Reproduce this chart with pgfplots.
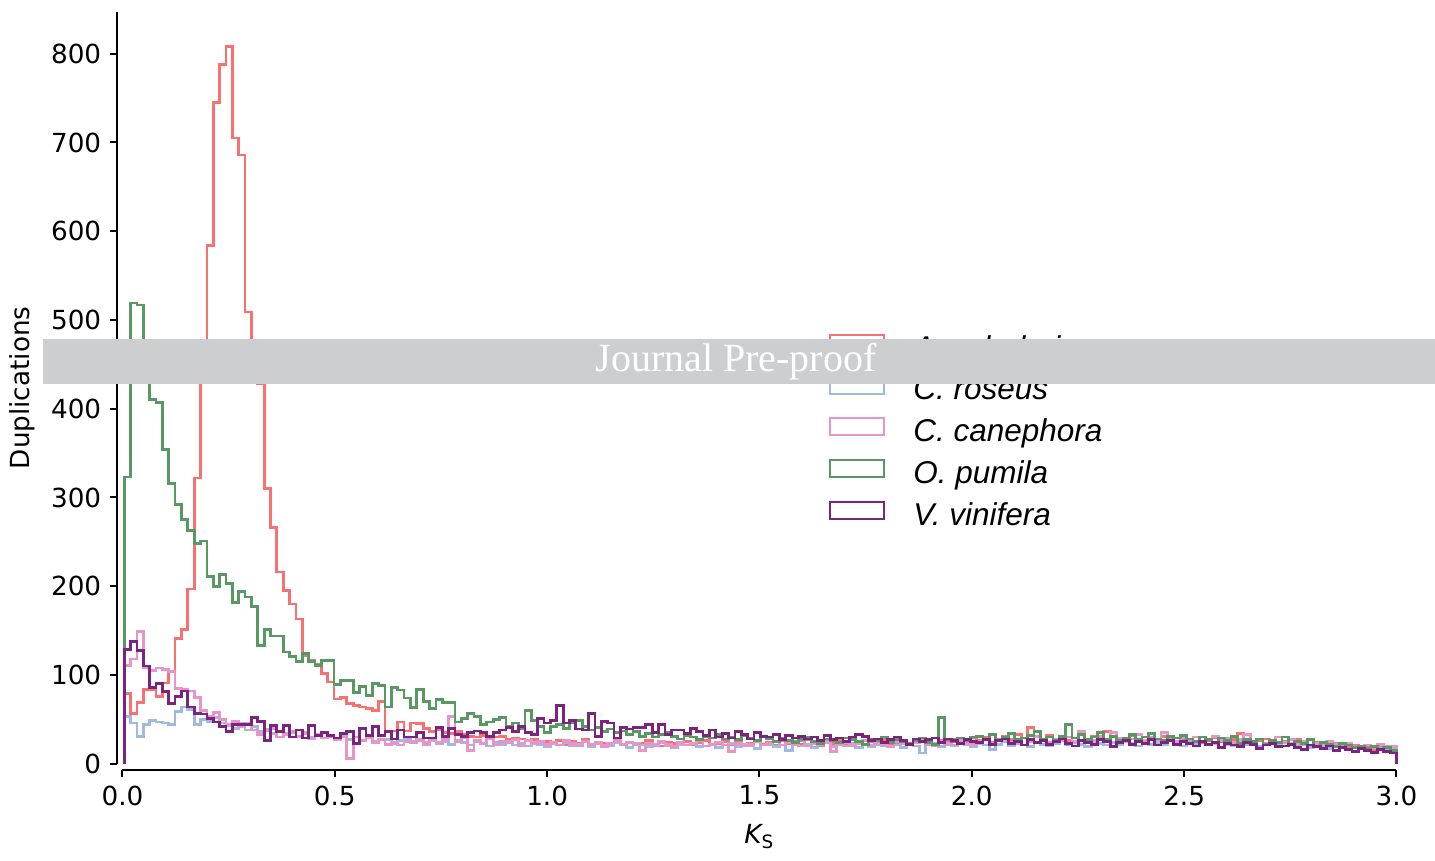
\documentclass[border=0pt]{standalone}
\usepackage{fontspec}
\setmainfont{DejaVu Sans}
\newfontfamily\legfont{Liberation Sans}
\newfontfamily\bannerfont{Liberation Serif}
\usepackage{pgfplots}
\usepackage{pgfplotstable}
\pgfplotsset{compat=1.18}

\definecolor{cred}{RGB}{248,113,113}
\definecolor{cblue}{RGB}{158,186,226}
\definecolor{cpink}{RGB}{232,148,200}
\definecolor{cgreen}{RGB}{88,152,98}
\definecolor{cpurple}{RGB}{122,36,128}
\definecolor{bannergray}{RGB}{205,206,208}

% step histograms, 200 bins from 0.004 to 3.0 (first row 0, last value repeated, then 0)
\pgfplotstableread[row sep=\\]{h\\ 0\\
79\\ 57\\ 69\\ 84\\ 84\\ 76\\ 91\\ 104\\ 141\\ 151\\ 197\\ 322\\
455\\ 584\\ 745\\ 788\\ 808\\ 705\\ 686\\ 509\\ 440\\ 428\\
310\\ 266\\ 216\\ 195\\ 180\\ 163\\
122\\ 117\\ 112\\ 102\\ 92\\ 73\\ 75\\ 68\\ 66\\ 64\\ 62\\ 60\\ 70\\
37\\ 37\\ 47\\ 37\\ 46\\
45\\ 40\\ 36\\ 38\\ 35\\ 34\\ 36\\ 33\\ 31\\ 30\\ 32\\ 29\\ 30\\ 31\\ 27\\ 29\\ 28\\ 26\\ 27\\ 24\\ 25\\
24\\ 26\\ 22\\ 25\\ 23\\ 27\\ 21\\ 24\\ 23\\ 20\\ 25\\ 22\\ 24\\ 21\\ 23\\ 26\\ 22\\ 20\\ 24\\ 23\\ 21\\ 25\\ 22\\ 24\\ 26\\ 21\\ 23\\ 25\\ 22\\ 24\\ 20\\ 23\\ 25\\ 22\\
24\\ 21\\ 26\\ 23\\ 25\\ 22\\ 27\\ 24\\ 20\\ 25\\ 23\\ 26\\ 22\\ 28\\ 24\\ 21\\ 25\\ 23\\ 27\\ 22\\ 24\\ 26\\ 21\\ 25\\ 28\\ 23\\ 22\\ 26\\ 24\\ 27\\ 23\\ 25\\ 29\\
26\\ 30\\ 24\\ 28\\ 31\\ 27\\ 33\\ 29\\ 41\\ 30\\ 27\\ 32\\ 28\\ 30\\ 26\\ 29\\ 33\\ 27\\ 31\\ 28\\ 36\\ 30\\ 27\\ 29\\ 32\\ 28\\ 26\\ 30\\ 27\\ 31\\ 29\\ 25\\ 28\\
27\\ 30\\ 24\\ 26\\ 29\\ 25\\ 23\\ 27\\ 34\\ 25\\ 22\\ 26\\ 28\\ 24\\ 21\\ 25\\ 23\\ 27\\ 22\\ 20\\ 24\\ 21\\ 19\\ 23\\ 20\\ 18\\ 21\\ 17\\ 19\\ 16\\ 18\\ 15\\ 17\\
17\\ 0\\
}\ascholaris

\pgfplotstableread[row sep=\\]{h\\ 0\\
53\\ 46\\ 31\\ 44\\ 49\\ 47\\ 46\\ 44\\ 59\\ 64\\ 61\\ 44\\ 50\\
48\\ 52\\ 46\\ 43\\ 40\\ 45\\ 38\\ 42\\ 36\\ 39\\ 34\\ 37\\ 33\\ 35\\ 31\\ 34\\ 30\\ 33\\ 29\\ 32\\ 28\\ 31\\ 27\\ 30\\ 26\\ 29\\ 25\\ 28\\ 27\\ 24\\ 26\\ 28\\ 25\\
27\\ 24\\ 26\\ 23\\ 25\\ 22\\ 26\\ 24\\ 21\\ 25\\ 23\\ 20\\ 24\\ 22\\ 25\\ 21\\ 23\\ 20\\ 24\\ 22\\ 19\\
23\\ 21\\ 24\\ 20\\ 22\\ 25\\ 19\\ 23\\ 21\\ 20\\ 24\\ 22\\ 18\\ 23\\ 21\\ 19\\ 22\\ 24\\ 20\\ 18\\ 22\\ 21\\ 23\\ 19\\ 20\\ 22\\ 18\\ 21\\ 23\\ 19\\ 22\\ 20\\ 17\\ 21\\
22\\ 19\\ 21\\ 15\\ 23\\ 20\\ 22\\ 18\\ 21\\ 24\\ 19\\ 22\\ 20\\ 23\\ 18\\ 21\\ 19\\ 22\\ 20\\ 24\\ 21\\ 18\\ 22\\ 20\\ 12\\ 21\\ 23\\ 19\\ 22\\ 20\\ 24\\ 21\\ 19\\
23\\ 21\\ 16\\ 22\\ 25\\ 20\\ 23\\ 21\\ 19\\ 24\\ 22\\ 20\\ 23\\ 26\\ 21\\ 24\\ 22\\ 19\\ 25\\ 23\\ 21\\ 24\\ 22\\ 27\\ 23\\ 20\\ 25\\ 22\\ 24\\ 21\\ 26\\ 23\\ 20\\
24\\ 22\\ 25\\ 21\\ 23\\ 26\\ 22\\ 20\\ 24\\ 21\\ 23\\ 19\\ 22\\ 25\\ 21\\ 20\\ 23\\ 19\\ 21\\ 18\\ 22\\ 20\\ 17\\ 21\\ 19\\ 16\\ 20\\ 18\\ 15\\ 19\\ 17\\ 16\\ 18\\
18\\ 0\\
}\croseus

\pgfplotstableread[row sep=\\]{h\\ 0\\
111\\ 118\\ 149\\ 108\\ 105\\ 108\\ 106\\ 104\\ 85\\ 84\\ 82\\ 75\\ 60\\ 53\\ 58\\ 50\\ 44\\ 48\\ 42\\ 46\\ 38\\ 33\\ 37\\ 40\\ 30\\ 34\\ 36\\ 31\\ 35\\ 28\\ 33\\ 29\\ 31\\ 27\\ 30\\ 6\\ 30\\ 26\\ 29\\ 24\\ 27\\ 22\\ 23\\ 21\\ 25\\ 24\\
26\\ 22\\ 28\\ 24\\ 27\\ 53\\ 25\\ 29\\ 15\\ 26\\ 23\\ 28\\ 21\\ 25\\ 24\\ 27\\ 20\\ 26\\ 23\\ 25\\ 22\\
24\\ 21\\ 26\\ 23\\ 20\\ 25\\ 22\\ 24\\ 19\\ 23\\ 26\\ 21\\ 24\\ 22\\ 15\\ 23\\ 20\\ 25\\ 22\\ 19\\ 24\\ 21\\ 23\\ 26\\ 20\\ 22\\ 24\\ 21\\ 14\\ 23\\ 20\\ 22\\ 25\\ 21\\
23\\ 25\\ 21\\ 24\\ 22\\ 26\\ 20\\ 23\\ 21\\ 25\\ 14\\ 22\\ 24\\ 20\\ 23\\ 26\\ 21\\ 24\\ 22\\ 19\\ 25\\ 23\\ 21\\ 24\\ 27\\ 22\\ 20\\ 25\\ 23\\ 21\\ 26\\ 24\\ 22\\
25\\ 28\\ 23\\ 26\\ 30\\ 24\\ 27\\ 29\\ 25\\ 31\\ 27\\ 24\\ 28\\ 26\\ 30\\ 25\\ 36\\ 28\\ 26\\ 31\\ 27\\ 35\\ 29\\ 25\\ 28\\ 33\\ 26\\ 30\\ 27\\ 35\\ 28\\ 25\\ 29\\
27\\ 30\\ 25\\ 28\\ 31\\ 26\\ 29\\ 24\\ 27\\ 33\\ 25\\ 28\\ 23\\ 26\\ 30\\ 24\\ 27\\ 22\\ 25\\ 28\\ 23\\ 21\\ 25\\ 22\\ 19\\ 23\\ 20\\ 17\\ 21\\ 18\\ 22\\ 19\\ 20\\
20\\ 0\\
}\ccanephora

\pgfplotstableread[row sep=\\]{h\\ 0\\
323\\ 519\\ 517\\ 430\\ 410\\ 407\\ 354\\ 316\\ 292\\ 275\\ 263\\ 248\\ 251\\
211\\ 200\\ 213\\ 203\\ 182\\ 194\\ 188\\ 177\\ 133\\ 151\\ 144\\ 144\\ 126\\ 121\\ 115\\
124\\ 115\\ 111\\ 116\\ 116\\ 89\\ 94\\ 94\\ 80\\ 87\\ 77\\ 90\\ 88\\ 64\\ 86\\ 83\\ 74\\ 63\\ 84\\
70\\ 62\\ 72\\ 69\\ 69\\ 47\\ 51\\ 57\\ 53\\ 44\\ 47\\ 50\\ 52\\ 42\\ 46\\ 40\\ 60\\ 49\\ 42\\ 35\\
42\\ 44\\ 40\\ 46\\ 49\\ 42\\ 38\\ 41\\ 36\\ 39\\ 35\\ 37\\ 33\\ 36\\ 31\\ 34\\ 30\\ 33\\ 35\\ 31\\ 28\\ 32\\ 30\\ 27\\ 31\\ 29\\ 33\\ 28\\ 30\\ 27\\ 32\\ 29\\ 26\\ 30\\
28\\ 25\\ 29\\ 26\\ 24\\ 27\\ 30\\ 25\\ 23\\ 28\\ 26\\ 24\\ 29\\ 27\\ 25\\ 22\\ 28\\ 26\\ 30\\ 24\\ 27\\ 25\\ 23\\ 26\\ 29\\ 24\\ 22\\ 52\\ 27\\ 25\\ 29\\ 26\\ 30\\
31\\ 28\\ 33\\ 26\\ 30\\ 34\\ 27\\ 29\\ 32\\ 36\\ 28\\ 30\\ 26\\ 31\\ 44\\ 29\\ 33\\ 27\\ 30\\ 35\\ 28\\ 31\\ 26\\ 29\\ 33\\ 27\\ 30\\ 34\\ 28\\ 26\\ 31\\ 29\\ 32\\
28\\ 25\\ 30\\ 27\\ 24\\ 29\\ 26\\ 31\\ 23\\ 27\\ 25\\ 28\\ 22\\ 26\\ 24\\ 30\\ 21\\ 25\\ 23\\ 27\\ 20\\ 24\\ 22\\ 19\\ 23\\ 21\\ 18\\ 20\\ 17\\ 19\\ 16\\ 18\\ 15\\
15\\ 0\\
}\opumila

\pgfplotstableread[row sep=\\]{h\\ 0\\
129\\ 138\\ 128\\ 110\\ 86\\ 90\\ 81\\ 68\\ 76\\ 82\\ 64\\ 57\\ 56\\ 51\\ 47\\ 42\\ 36\\ 44\\ 44\\
44\\ 52\\ 48\\ 26\\
43\\ 36\\ 43\\ 30\\ 38\\ 29\\ 43\\ 32\\ 35\\ 32\\ 29\\ 34\\ 36\\ 23\\ 40\\ 32\\ 42\\ 32\\ 36\\ 28\\
38\\ 30\\ 30\\ 35\\ 29\\ 29\\ 41\\ 31\\ 40\\ 33\\ 31\\ 35\\ 37\\ 35\\ 31\\ 35\\ 38\\ 41\\ 36\\ 42\\ 35\\ 33\\ 51\\ 46\\ 49\\ 66\\ 46\\ 49\\ 39\\ 38\\ 57\\ 31\\ 48\\ 46\\ 29\\ 41\\ 39\\ 41\\ 41\\ 44\\ 35\\ 44\\ 33\\ 38\\ 38\\ 34\\ 40\\
36\\ 32\\ 38\\ 30\\ 34\\ 29\\ 36\\ 33\\ 28\\ 35\\ 31\\ 30\\ 33\\ 27\\ 32\\ 29\\ 31\\
28\\ 30\\ 26\\ 32\\ 27\\ 29\\ 25\\ 30\\ 33\\ 31\\ 26\\ 28\\ 24\\ 27\\ 30\\ 26\\ 22\\ 28\\ 25\\ 27\\ 29\\ 24\\ 28\\ 26\\ 23\\ 27\\ 25\\
24\\ 27\\ 22\\ 26\\ 28\\ 23\\ 25\\ 21\\ 27\\ 24\\ 26\\ 22\\ 25\\ 28\\ 23\\ 20\\ 26\\ 24\\ 22\\ 27\\ 25\\ 19\\ 24\\ 26\\ 22\\ 25\\ 23\\ 27\\ 21\\ 24\\ 26\\ 22\\ 25\\
23\\ 20\\ 25\\ 22\\ 24\\ 18\\ 23\\ 21\\ 19\\ 24\\ 22\\ 17\\ 21\\ 23\\ 19\\ 20\\ 22\\ 18\\ 16\\ 21\\ 19\\ 17\\ 20\\ 15\\ 18\\ 16\\ 14\\ 17\\ 15\\ 13\\ 16\\ 14\\ 12\\
12\\ 0\\
}\vvinifera

\begin{document}
\begin{tikzpicture}
\begin{axis}[
    name=ax,
    scale only axis,
    width=509.6pt,
    height=300.7pt,
    xmin=0, xmax=3,
    ymin=0, ymax=847,
    axis x line*=bottom,
    axis y line*=left,
    axis x line shift=2.4pt,
    axis y line shift=2.2pt,
    axis line style={-, line width=0.8pt},
    xtick={0,0.5,1,1.5,2,2.5,3},
    ytick={0,100,200,300,400,500,600,700,800},
    xticklabel style={/pgf/number format/.cd, fixed, fixed zerofill, precision=1},
    /pgf/number format/assume math mode=true,
    tick label style={font=\fontsize{10.5}{12}\selectfont},
    tick align=outside,
    major tick length=2.8pt,
    tick style={line width=0.8pt, black},
    xlabel={{\itshape K}\textsubscript{S}},
    ylabel={Duplications},
    every axis x label/.style={at={(axis description cs:0.5,-0.097)}, anchor=center, font=\fontsize{10.5}{12}\selectfont},
    every axis y label/.style={at={(axis description cs:-0.0785,0.5)}, rotate=90, anchor=center, font=\fontsize{10.5}{12}\selectfont},
    clip=false,
    legend cell align=left,
    legend style={draw=none, fill=none, inner sep=0pt, outer sep=0pt,
        at={(axis description cs:0.5545,0.44)}, anchor=west,
        font=\legfont\itshape\fontsize{12.6}{14}\selectfont,
        row sep=4.3pt, /tikz/column sep=0pt,
        nodes={inner sep=0pt, text height=9pt, text depth=2.7pt}},
    legend image code/.code={\draw[#1, line width=0.8pt] (0pt,-0.6pt) rectangle (21.6pt,6.2pt); \path (32.8pt,0pt);},
    hist/.style={const plot mark left, line width=1.1pt, mark=none},
]
\addplot[hist, cred] table[x expr={min(0.004+max(\coordindex-1,0)*0.01498,3)}, y=h] {\ascholaris};
\addplot[hist, cblue] table[x expr={min(0.004+max(\coordindex-1,0)*0.01498,3)}, y=h] {\croseus};
\addplot[hist, cpink] table[x expr={min(0.004+max(\coordindex-1,0)*0.01498,3)}, y=h] {\ccanephora};
\addplot[hist, cgreen] table[x expr={min(0.004+max(\coordindex-1,0)*0.01498,3)}, y=h] {\opumila};
\addplot[hist, cpurple] table[x expr={min(0.004+max(\coordindex-1,0)*0.01498,3)}, y=h] {\vvinifera};
\legend{A. scholaris, C. roseus, C. canephora, O. pumila, V. vinifera}
\end{axis}
% "Journal Pre-proof" banner over the figure
\fill[bannergray] ([xshift=-31.8pt,yshift=151.9pt]ax.south west) rectangle ([xshift=525pt,yshift=169.9pt]ax.south west);
\node[text=white, font=\bannerfont\fontsize{16}{18}\selectfont, anchor=center, inner sep=0pt]
    at ([xshift=245.4pt,yshift=160.9pt]ax.south west) {Journal Pre-proof};
\pgfresetboundingbox
\path[use as bounding box] ([xshift=-49pt,yshift=-38.9pt]ax.south west) rectangle ([xshift=525pt,yshift=305.5pt]ax.south west);
\end{tikzpicture}
\end{document}
